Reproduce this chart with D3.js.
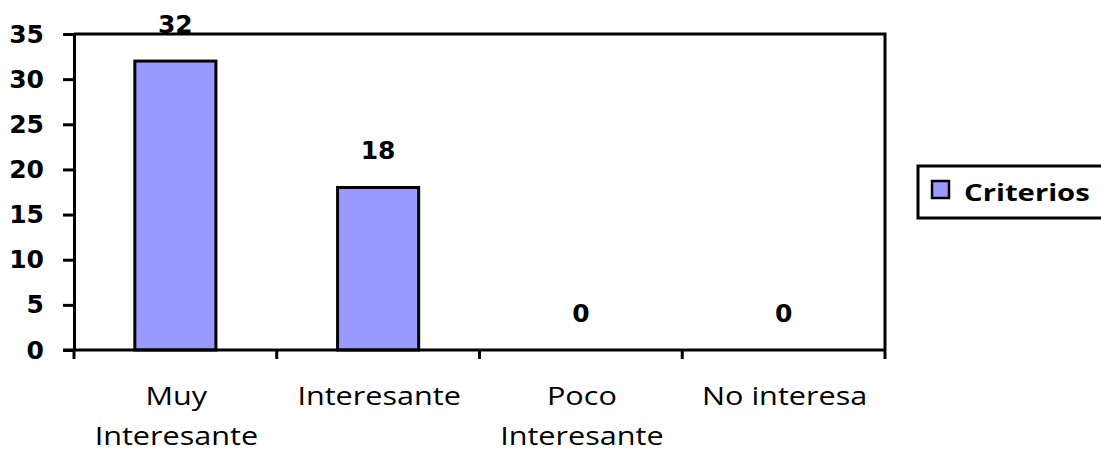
<!DOCTYPE html>
<html>
<head>
<meta charset="utf-8">
<script src="https://cdn.jsdelivr.net/npm/d3@7"></script>
<style>
  body { margin: 0; background: #fff; }
  svg { display: block; }
</style>
</head>
<body>
<script>
const categories = [['Muy', 'Interesante'], ['Interesante'], ['Poco', 'Interesante'], ['No interesa']];
const values = [32, 18, 0, 0];
const yTicks = [0, 5, 10, 15, 20, 25, 30, 35];
const seriesName = 'Criterios';

const W = 1101, H = 451;
const mLeft = 74, mRight = 885, mTop = 34, mBottom = 350;

const svg = d3.select('body').append('svg')
  .attr('width', W).attr('height', H);

const x = d3.scaleBand()
  .domain(d3.range(categories.length))
  .range([mLeft, mRight])
  .paddingInner(0.6).paddingOuter(0.3);

const y = d3.scaleLinear().domain([0, 35]).range([mBottom, mTop]);

// plot border top/right
svg.append('path')
  .attr('d', `M${mLeft},${mTop}H${mRight}V${mBottom}`)
  .attr('fill', 'none').attr('stroke', '#000').attr('stroke-width', 3);

// bars
svg.selectAll('rect.bar')
  .data(values)
  .enter()
  .append('rect')
  .attr('class', 'bar')
  .attr('x', (d, i) => x(i))
  .attr('y', d => y(d))
  .attr('width', x.bandwidth())
  .attr('height', d => mBottom - y(d))
  .attr('fill', '#9999ff')
  .attr('stroke', '#000')
  .attr('stroke-width', d => d > 0 ? 3 : 0);

// value labels
svg.selectAll('text.val')
  .data(values)
  .enter()
  .append('text')
  .attr('x', (d, i) => x(i) + x.bandwidth() / 2)
  .attr('y', d => y(d) - 28)
  .attr('text-anchor', 'middle')
  .style('font-family', 'DejaVu Sans')
  .style('font-weight', 'bold')
  .style('font-size', '25px')
  .text(d => d);

// y axis
const yAxis = svg.append('g')
  .attr('transform', `translate(${mLeft},0)`)
  .call(d3.axisLeft(y).tickValues(yTicks).tickSize(11).tickSizeOuter(0).tickPadding(19));
yAxis.select('.domain').attr('stroke-width', 3);
yAxis.selectAll('line').attr('stroke-width', 3);
yAxis.selectAll('text')
  .style('font-family', 'DejaVu Sans')
  .style('font-weight', 'bold')
  .style('font-size', '25px')
  .attr('fill', '#000');

// x axis with ticks between categories
const xEdge = d3.scaleLinear().domain([0, categories.length]).range([mLeft, mRight]);
svg.append('line')
  .attr('x1', mLeft - 11).attr('x2', mRight)
  .attr('y1', mBottom).attr('y2', mBottom)
  .attr('stroke', '#000').attr('stroke-width', 3);
svg.selectAll('line.xt')
  .data(d3.range(categories.length + 1))
  .enter()
  .append('line')
  .attr('x1', d => xEdge(d)).attr('x2', d => xEdge(d))
  .attr('y1', mBottom).attr('y2', mBottom + 9)
  .attr('stroke', '#000').attr('stroke-width', 3);

// category labels (stretched horizontally like the original)
const cat = svg.selectAll('text.cat')
  .data(categories)
  .enter()
  .append('text')
  .attr('transform', (d, i) => `translate(${(xEdge(i) + xEdge(i + 1)) / 2 + 1},0) scale(1.2,1)`)
  .attr('text-anchor', 'middle')
  .style('font-family', 'Open Sans')
  .style('font-size', '25.5px')
  .attr('fill', '#000');
cat.selectAll('tspan')
  .data(d => d)
  .enter()
  .append('tspan')
  .attr('x', 0)
  .attr('y', (d, j) => 405 + j * 40)
  .text(d => d);

// legend
const lg = svg.append('g');
lg.append('rect')
  .attr('x', 918).attr('y', 166).attr('width', 200).attr('height', 52)
  .attr('fill', '#fff').attr('stroke', '#000').attr('stroke-width', 3);
lg.append('rect')
  .attr('x', 932).attr('y', 181).attr('width', 17).attr('height', 17)
  .attr('fill', '#9999ff').attr('stroke', '#000').attr('stroke-width', 2.5);
lg.append('text')
  .attr('transform', 'translate(964,201) scale(1.22,1)')
  .style('font-family', 'Open Sans')
  .style('font-weight', 'bold')
  .style('font-size', '24px')
  .text(seriesName);
</script>
</body>
</html>
